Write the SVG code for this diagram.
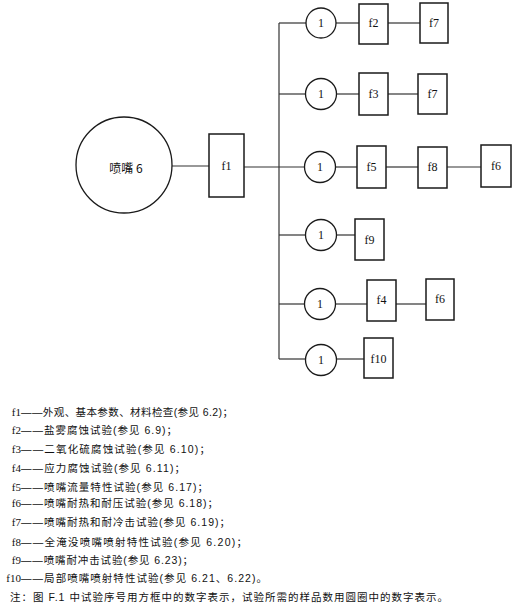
<svg xmlns="http://www.w3.org/2000/svg" width="515" height="607" viewBox="0 0 515 607">
<style>
.bx{fill:#fff;stroke:#1a1a1a;stroke-width:1.5}
.ci{fill:#fff;stroke:#1a1a1a;stroke-width:1.3}
.ln{stroke:#333;stroke-width:1.2;fill:none}
.lb{font-family:"Liberation Serif",serif;font-size:12px;fill:#111;text-anchor:middle;dominant-baseline:central}
.cj{font-family:"Noto Sans CJK SC",sans-serif;font-size:12px;fill:#111;text-anchor:middle;dominant-baseline:central}
.fl{font-family:"Liberation Serif",serif;font-size:11px;fill:#111;text-anchor:end;dominant-baseline:central}
.lg{font-family:"Liberation Sans","Noto Sans CJK SC",sans-serif;font-size:10.5px;fill:#111;dominant-baseline:central}
</style>
<g id="connectors" class="ln">
<line x1="172" y1="166" x2="209" y2="166"/>
<line x1="244" y1="167" x2="305" y2="167"/>
<line x1="279" y1="23" x2="279" y2="359"/>
<line x1="279" y1="23" x2="306" y2="23"/>
<line x1="336" y1="23" x2="359" y2="23"/>
<line x1="388" y1="23" x2="420" y2="23"/>
<line x1="279" y1="94" x2="306" y2="94"/>
<line x1="336" y1="94" x2="359" y2="94"/>
<line x1="388" y1="94" x2="418" y2="94"/>
<line x1="335" y1="167" x2="357" y2="167"/>
<line x1="386" y1="167" x2="418" y2="167"/>
<line x1="447" y1="167" x2="481" y2="167"/>
<line x1="279" y1="235" x2="306" y2="235"/>
<line x1="336" y1="235" x2="355" y2="235"/>
<line x1="279" y1="304" x2="305" y2="304"/>
<line x1="335" y1="304" x2="367" y2="304"/>
<line x1="396" y1="304" x2="426" y2="304"/>
<line x1="279" y1="359" x2="306" y2="359"/>
<line x1="336" y1="359" x2="364" y2="359"/>
</g>
<g id="nozzle"><circle class="ci" cx="124" cy="165" r="48"/><text class="cj" x="126" y="167">喷嘴 6</text></g>
<g id="f1"><rect class="bx" x="209" y="134" width="35" height="63"/><text class="lb" x="226.5" y="166">f1</text></g>
<g id="c1"><circle class="ci" cx="321" cy="23" r="15"/><text class="lb" x="321" y="23">1</text></g>
<g id="f2"><rect class="bx" x="359" y="4" width="29" height="40"/><text class="lb" x="373.5" y="23">f2</text></g>
<g id="f7a"><rect class="bx" x="420" y="3" width="28" height="40"/><text class="lb" x="434" y="23">f7</text></g>
<g id="c2"><circle class="ci" cx="321" cy="94" r="15.5"/><text class="lb" x="321" y="94">1</text></g>
<g id="f3"><rect class="bx" x="359" y="73" width="29" height="42"/><text class="lb" x="373.5" y="94">f3</text></g>
<g id="f7b"><rect class="bx" x="418" y="74" width="29" height="40"/><text class="lb" x="432.5" y="94">f7</text></g>
<g id="c3"><circle class="ci" cx="320" cy="167" r="15.5"/><text class="lb" x="320" y="167">1</text></g>
<g id="f5"><rect class="bx" x="357" y="146" width="29" height="42"/><text class="lb" x="371.5" y="167">f5</text></g>
<g id="f8"><rect class="bx" x="418" y="147" width="29" height="41"/><text class="lb" x="432.5" y="167">f8</text></g>
<g id="f6a"><rect class="bx" x="481" y="145" width="30" height="42"/><text class="lb" x="496" y="166">f6</text></g>
<g id="c4"><circle class="ci" cx="321" cy="235" r="15.5"/><text class="lb" x="321" y="235">1</text></g>
<g id="f9"><rect class="bx" x="355" y="219" width="29" height="41"/><text class="lb" x="369.5" y="240">f9</text></g>
<g id="c5"><circle class="ci" cx="320" cy="304" r="15.5"/><text class="lb" x="320" y="304">1</text></g>
<g id="f4"><rect class="bx" x="367" y="280" width="29" height="41"/><text class="lb" x="381.5" y="300">f4</text></g>
<g id="f6b"><rect class="bx" x="426" y="279" width="28" height="41"/><text class="lb" x="440" y="299">f6</text></g>
<g id="c6"><circle class="ci" cx="321" cy="360" r="15.5"/><text class="lb" x="321" y="360">1</text></g>
<g id="f10"><rect class="bx" x="364" y="338" width="29" height="40"/><text class="lb" x="378.5" y="359">f10</text></g>
<g id="legend">
<text class="fl" x="21" y="412">f1</text><text class="lg" x="21" y="412" textLength="212" lengthAdjust="spacing">——外观、基本参数、材料检查(参见 6.2)；</text>
<text class="fl" x="21" y="430">f2</text><text class="lg" x="21" y="430" textLength="156" lengthAdjust="spacing">——盐雾腐蚀试验(参见 6.9)；</text>
<text class="fl" x="21" y="449">f3</text><text class="lg" x="21" y="449" textLength="189" lengthAdjust="spacing">——二氧化硫腐蚀试验(参见 6.10)；</text>
<text class="fl" x="21" y="468">f4</text><text class="lg" x="21" y="468" textLength="164" lengthAdjust="spacing">——应力腐蚀试验(参见 6.11)；</text>
<text class="fl" x="21" y="487">f5</text><text class="lg" x="21" y="487" textLength="187" lengthAdjust="spacing">——喷嘴流量特性试验(参见 6.17)；</text>
<text class="fl" x="21" y="503">f6</text><text class="lg" x="21" y="503" textLength="197" lengthAdjust="spacing">——喷嘴耐热和耐压试验(参见 6.18)；</text>
<text class="fl" x="21" y="522">f7</text><text class="lg" x="21" y="522" textLength="209" lengthAdjust="spacing">——喷嘴耐热和耐冷击试验(参见 6.19)；</text>
<text class="fl" x="21" y="542">f8</text><text class="lg" x="21" y="542" textLength="226" lengthAdjust="spacing">——全淹没喷嘴喷射特性试验(参见 6.20)；</text>
<text class="fl" x="21" y="560">f9</text><text class="lg" x="21" y="560" textLength="172" lengthAdjust="spacing">——喷嘴耐冲击试验(参见 6.23)；</text>
<text class="fl" x="21" y="578">f10</text><text class="lg" x="21" y="578" textLength="246" lengthAdjust="spacing">——局部喷嘴喷射特性试验(参见 6.21、6.22)。</text>
<text class="lg" x="10" y="597" textLength="438" lengthAdjust="spacing">注：图 F.1 中试验序号用方框中的数字表示，试验所需的样品数用圆圈中的数字表示。</text>
</g>
</svg>
